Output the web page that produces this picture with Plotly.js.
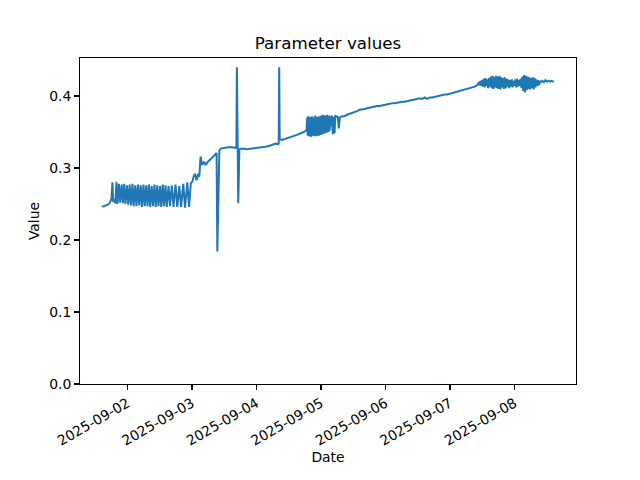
<!DOCTYPE html>
<html>
<head>
<meta charset="utf-8">
<script src="https://cdn.plot.ly/plotly-3.0.1.min.js"></script>
<style>html,body{margin:0;padding:0;background:#fff}#chart{width:640px;height:480px}</style>
</head>
<body>
<div id="chart"></div>
<script>
// Hours since 2025-09-01 00:00 and parameter values
const startDate = "2025-09-01";
const hours = [
14.48,15.60,16.72,17.46,18.02,18.40,18.67,19.14,19.51,19.89,20.26,
20.82,21.28,21.84,22.31,22.77,23.24,23.80,24.27,24.82,25.29,25.85,26.31,26.87,27.34,27.90,28.36,28.92,29.39,29.95,30.41,
30.97,31.44,32.00,32.46,33.02,33.49,34.05,34.51,35.07,35.54,36.10,36.56,37.12,37.59,38.15,38.61,39.27,39.82,40.48,41.13,
41.87,42.53,43.27,43.92,44.76,45.41,46.25,46.91,
47.56,48.12,48.68,49.14,49.70,50.35,50.73,51.19,51.75,52.50,53.06,53.99,54.92,55.85,56.60,57.15,57.43,58.18,58.65,60.04,61.91,64.24,64.52,64.70,64.93,65.21,65.63,
66.57,68.43,70.29,72.16,74.02,75.88,77.75,79.14,80.08,80.26,80.45,80.63,81.47,83.34,85.20,87.06,88.93,90.60,
90.88,91.07,91.25,91.44,91.63,91.81,92.00,92.19,92.37,92.56,92.74,92.93,93.12,93.30,93.49,93.67,93.86,94.05,94.23,94.42,
94.61,94.79,94.98,95.16,95.35,95.54,95.72,95.91,96.10,96.28,96.47,96.65,96.84,97.03,97.21,97.40,97.59,97.77,97.96,98.14,
98.33,98.52,98.70,98.89,99.08,99.26,99.45,99.73,100.01,100.39,100.67,101.04,101.32,102.25,102.62,103.00,103.74,
104.77,105.70,106.63,107.56,108.50,109.43,110.36,111.29,112.22,113.15,114.09,115.02,115.95,116.88,117.81,118.74,119.68,120.61,121.54,122.47,
123.40,124.33,125.27,126.20,127.13,128.06,128.99,129.92,130.86,131.79,132.72,133.65,134.58,135.51,136.45,137.38,138.31,139.24,140.17,141.10,
142.04,142.97,143.90,144.83,145.76,146.69,147.63,148.56,149.49,150.42,151.35,152.28,153.22,154.43,
154.61,154.94,155.26,155.59,155.91,156.24,156.57,156.89,157.22,157.55,157.87,158.20,158.52,158.85,159.18,159.50,159.83,160.15,160.48,160.81,
161.13,161.46,161.78,162.11,162.44,162.76,163.09,163.41,163.74,164.07,164.39,164.72,165.05,165.37,165.70,166.02,166.35,166.68,167.00,167.33,
167.65,167.98,168.31,168.63,168.96,169.28,169.61,169.94,170.26,170.59,170.92,171.24,171.57,171.89,172.22,172.55,172.87,173.20,173.52,173.85,
174.18,174.50,174.83,175.15,175.48,175.81,176.13,176.46,176.78,177.11,177.44,
177.81,178.37,178.93,179.49,180.05,180.61,181.17,181.73,182.28,182.66
];
const values = [
0.246,0.247,0.249,0.252,0.257,0.280,0.253,0.255,0.251,0.281,0.250,
0.278,0.252,0.277,0.251,0.278,0.250,0.276,0.249,0.277,0.248,0.278,0.247,0.276,0.247,0.277,0.248,0.276,0.246,0.277,0.247,
0.276,0.247,0.277,0.246,0.275,0.247,0.277,0.246,0.276,0.247,0.275,0.246,0.277,0.247,0.276,0.246,0.275,0.247,0.276,0.246,
0.277,0.246,0.275,0.246,0.278,0.245,0.280,0.246,
0.279,0.281,0.289,0.292,0.283,0.292,0.288,0.316,0.304,0.309,0.304,0.309,0.312,0.316,0.319,0.321,0.184,0.324,0.327,0.328,0.329,0.328,0.330,0.440,0.329,0.251,0.326,
0.327,0.326,0.327,0.327,0.328,0.330,0.332,0.334,0.333,0.334,0.440,0.340,0.339,0.341,0.343,0.346,0.349,0.352,
0.370,0.345,0.372,0.344,0.369,0.346,0.371,0.343,0.368,0.345,0.372,0.346,0.370,0.344,0.369,0.347,0.373,0.345,0.370,0.344,
0.371,0.346,0.369,0.345,0.372,0.347,0.370,0.346,0.373,0.348,0.371,0.347,0.374,0.349,0.372,0.348,0.373,0.350,0.371,0.349,
0.374,0.351,0.372,0.350,0.373,0.352,0.372,0.358,0.373,0.347,0.371,0.348,0.372,0.371,0.355,0.370,0.372,
0.372,0.374,0.375,0.376,0.377,0.379,0.381,0.381,0.382,0.383,0.384,0.384,0.385,0.386,0.386,0.387,0.388,0.388,0.389,0.390,
0.390,0.391,0.391,0.392,0.392,0.393,0.394,0.394,0.395,0.396,0.397,0.396,0.398,0.396,0.398,0.398,0.399,0.400,0.401,0.401,
0.402,0.402,0.403,0.404,0.405,0.406,0.407,0.407,0.408,0.409,0.410,0.411,0.413,0.416,
0.419,0.415,0.421,0.414,0.422,0.413,0.424,0.412,0.425,0.414,0.423,0.411,0.425,0.413,0.427,0.411,0.428,0.410,0.426,0.412,
0.428,0.411,0.427,0.410,0.428,0.409,0.426,0.412,0.425,0.410,0.426,0.411,0.424,0.413,0.423,0.411,0.422,0.413,0.423,0.412,
0.421,0.414,0.423,0.412,0.424,0.413,0.422,0.414,0.424,0.411,0.427,0.407,0.429,0.405,0.428,0.408,0.427,0.410,0.426,0.409,
0.425,0.411,0.426,0.409,0.425,0.412,0.423,0.414,0.422,0.415,0.421,
0.419,0.421,0.419,0.422,0.420,0.421,0.420,0.421,0.420,0.420
];
const xRangeHours = [6.33, 190.88];
const yRange = [0, 0.4528];
const dayTicks = ["2025-09-02","2025-09-03","2025-09-04","2025-09-05","2025-09-06","2025-09-07","2025-09-08"];

const base = Date.parse(startDate + "T00:00:00Z");
function toDate(h) {
  return new Date(base + h * 3600000).toISOString().slice(0, 19).replace("T", " ");
}
const xs = hours.map(toDate);

const font = {family: "DejaVu Sans, sans-serif", size: 13.9, color: "#000"};
const trace = {
  x: xs, y: values, type: "scatter", mode: "lines",
  line: {color: "#1f77b4", width: 2}, hoverinfo: "skip"
};
const layout = {
  width: 640, height: 480,
  margin: {l: 80, r: 64, t: 57.6, b: 96},
  paper_bgcolor: "#fff", plot_bgcolor: "#fff",
  font: font,
  showlegend: false,
  title: {text: "Parameter values", font: {family: font.family, size: 16.7, color: "#000"},
          x: 0.5, xanchor: "center", xref: "paper", y: 1 - 43 / 480, yanchor: "middle"},
  xaxis: {
    type: "date", range: xRangeHours.map(toDate),
    tickvals: dayTicks, ticktext: dayTicks, tickangle: -30,
    showgrid: false, zeroline: false,
    showline: true, mirror: true, linecolor: "#000", linewidth: 1.1,
    ticks: "outside", ticklen: 4.9, tickwidth: 1.1, tickcolor: "#000",
    tickfont: font,
    title: {text: "Date", font: font, standoff: 4},
    automargin: false
  },
  yaxis: {
    range: yRange, tickvals: [0, 0.1, 0.2, 0.3, 0.4], tickformat: ".1f",
    showgrid: false, zeroline: false,
    showline: true, mirror: true, linecolor: "#000", linewidth: 1.1,
    ticks: "outside", ticklen: 4.9, tickwidth: 1.1, tickcolor: "#000",
    tickfont: font,
    title: {text: "Value", font: font, standoff: 6},
    automargin: false
  }
};
Plotly.newPlot("chart", [trace], layout, {staticPlot: true, displayModeBar: false});
</script>
</body>
</html>
